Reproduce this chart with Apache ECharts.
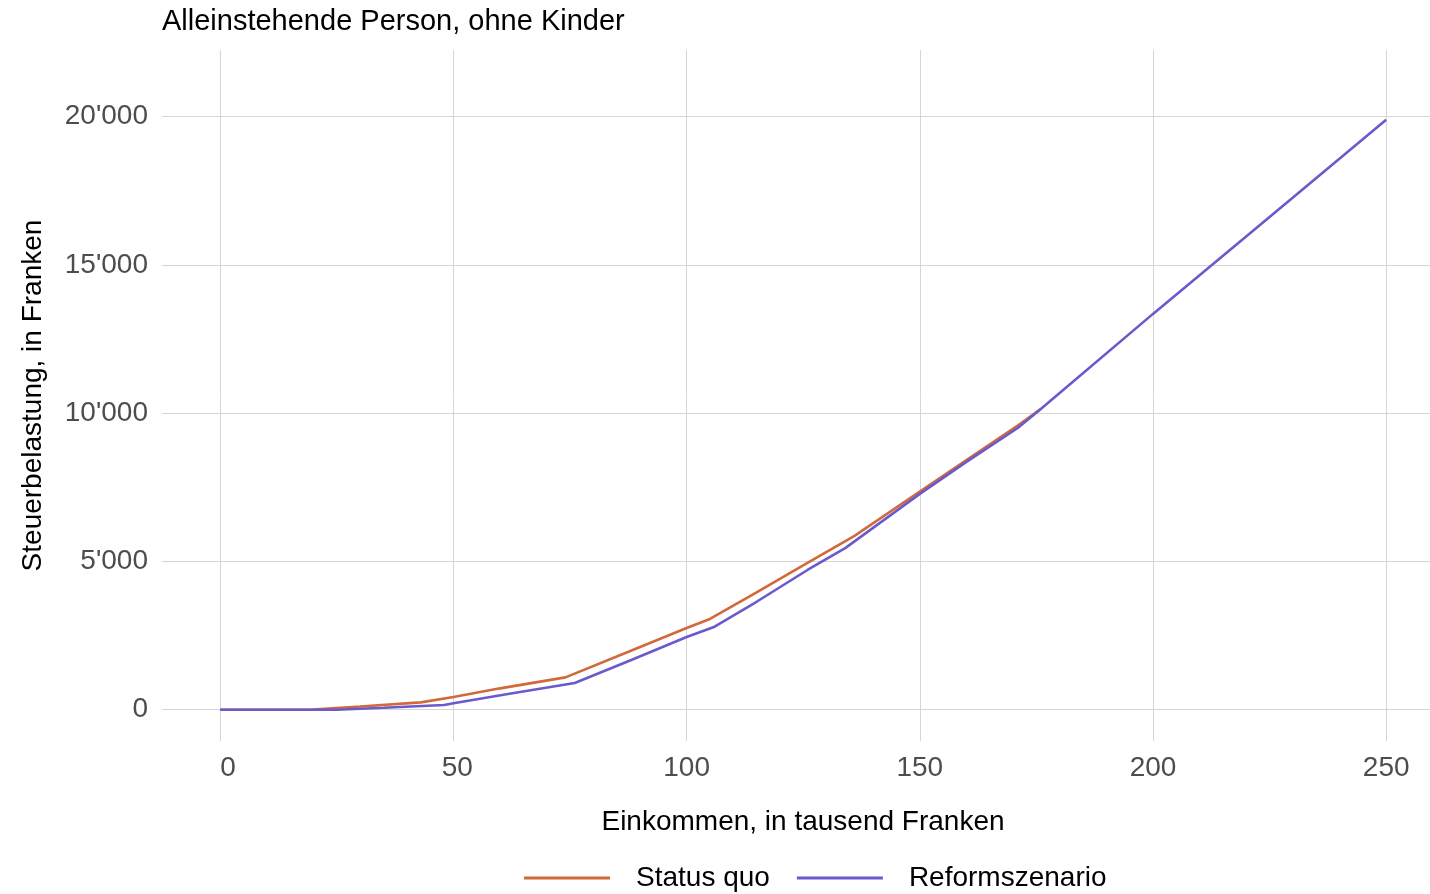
<!DOCTYPE html>
<html>
<head>
<meta charset="utf-8">
<script src="https://cdn.jsdelivr.net/npm/echarts@6/dist/echarts.min.js"></script>
<style>
html,body{margin:0;padding:0;background:#fff;}
#chart{width:1430px;height:894px;}
</style>
</head>
<body>
<div id="chart"></div>
<script>
// Income in thousand francs and tax burden in francs
const statusQuoIncome = [0, 19, 30, 43, 50, 60, 74, 87, 100, 105, 115, 126, 136, 150, 160, 171, 176];
const statusQuoTax    = [0, 0, 110, 246, 430, 720, 1090, 1920, 2755, 3060, 3960, 4960, 5860, 7360, 8420, 9580, 10150];

const reformIncome = [0, 25, 35, 48, 50, 62, 76, 88, 100, 106, 115, 126, 134, 150, 160, 171, 176, 200, 225, 250];
const reformTax    = [0, 0, 65, 160, 220, 540, 900, 1670, 2450, 2800, 3640, 4720, 5450, 7280, 8360, 9500, 10150, 13350, 16620, 19900];

const xTicks = [0, 50, 100, 150, 200, 250];
const xTickLabels = ['  0', ' 50', '100', '150', '200', '250'];
const yTicks = [0, 5000, 10000, 15000, 20000];
const yTickLabels = ['0', "5'000", "10'000", "15'000", "20'000"];

const seriesNames = ['Status quo', 'Reformszenario'];
const seriesColors = ['#D2693A', '#6A5ACD'];

function pairs(xs, ys) { return xs.map((x, i) => [x, ys[i]]); }

const FONT = 'Liberation Sans';
const FS = 28;
const chart = echarts.init(document.getElementById('chart'), null, {renderer: 'canvas'});
chart.setOption({
  animation: false,
  backgroundColor: '#ffffff',
  title: {
    text: 'Alleinstehende Person, ohne Kinder',
    left: 157, top: 2,
    textStyle: {fontFamily: FONT, fontSize: 29, fontWeight: 'normal', color: '#000000'}
  },
  legend: {
    data: seriesNames,
    left: 524, top: 864,
    padding: 0,
    icon: 'rect',
    itemWidth: 86, itemHeight: 3,
    itemGap: 27,
    textStyle: {fontFamily: FONT, fontSize: FS, color: '#000000', padding: [0, 0, 0, 21]}
  },
  grid: {left: 162, right: 0, top: 50, bottom: 153, containLabel: false},
  xAxis: {
    type: 'value',
    min: -12.5, max: 259.4,
    name: 'Einkommen, in tausend Franken',
    nameLocation: 'middle',
    nameGap: 67,
    nameTextStyle: {fontFamily: FONT, fontSize: FS, color: '#000000', padding: [0, 0, 0, 14]},
    axisLine: {show: false},
    axisTick: {show: false, customValues: xTicks},
    axisLabel: {
      customValues: xTicks,
      margin: 13,
      fontFamily: FONT, fontSize: FS, color: '#4D4D4D',
      formatter: v => xTickLabels[xTicks.indexOf(v)]
    },
    splitLine: {show: true, lineStyle: {color: '#D6D6D6', width: 1}}
  },
  yAxis: {
    type: 'value',
    min: -1056, max: 22250,
    name: 'Steuerbelastung, in Franken',
    nameLocation: 'middle',
    nameGap: 115,
    nameRotate: 90,
    nameTextStyle: {fontFamily: FONT, fontSize: FS, color: '#000000'},
    axisLine: {show: false},
    axisTick: {show: false, customValues: yTicks},
    axisLabel: {
      customValues: yTicks,
      margin: 14,
      padding: [5, 0, 0, 0],
      fontFamily: FONT, fontSize: FS, color: '#4D4D4D',
      formatter: v => yTickLabels[yTicks.indexOf(v)]
    },
    splitLine: {show: true, lineStyle: {color: '#D6D6D6', width: 1}}
  },
  series: [
    {
      name: seriesNames[0], type: 'line', data: pairs(statusQuoIncome, statusQuoTax),
      showSymbol: false, symbol: 'none', color: seriesColors[0],
      lineStyle: {width: 2.6, color: seriesColors[0]}, z: 2
    },
    {
      name: seriesNames[1], type: 'line', data: pairs(reformIncome, reformTax),
      showSymbol: false, symbol: 'none', color: seriesColors[1],
      lineStyle: {width: 2.6, color: seriesColors[1]}, z: 3
    }
  ]
});
</script>
</body>
</html>
